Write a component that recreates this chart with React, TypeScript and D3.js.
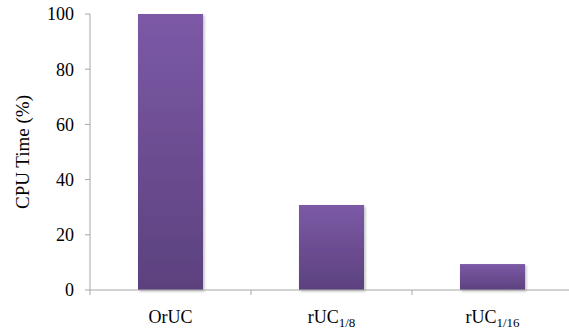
import React from "react";
import * as d3 from "d3";

const categories = ["OrUC", "rUC_1/8", "rUC_1/16"];
const cpuTime = [100, 30.8, 9.4];
const yTicks = [0, 20, 40, 60, 80, 100];

const W = 569;
const H = 333;
const left = 90;
const right = 573;
const top = 14;
const bottom = 290;

export default function App() {
  const x = d3
    .scaleBand<string>()
    .domain(categories)
    .range([left, right])
    .paddingInner(0.596)
    .paddingOuter(0.298);
  const y = d3.scaleLinear().domain([0, 100]).range([bottom, top]);
  const step = x.step();
  const font = "Liberation Serif, serif";
  const axisColor = "#a6a6a6";

  const renderLabel = (c: string) => {
    const [base, sub] = c.split("_");
    return (
      <>
        {base}
        {sub && (
          <tspan fontSize={13} dy={4}>
            {sub}
          </tspan>
        )}
      </>
    );
  };

  return (
    <svg
      width={W}
      height={H}
      style={{ position: "absolute", left: 0, top: 0, background: "#fff" }}
      fontFamily={font}
    >
      <defs>
        <linearGradient id="barFill" x1="0" y1="0" x2="0" y2="1">
          <stop offset="0%" stopColor="#7c59a6" />
          <stop offset="100%" stopColor="#5c417e" />
        </linearGradient>
        <filter id="shadow" x="-10%" y="-10%" width="130%" height="130%">
          <feDropShadow dx="1.5" dy="1.5" stdDeviation="1.2" floodColor="#000" floodOpacity="0.25" />
        </filter>
      </defs>

      {categories.map((c, i) => (
        <rect
          key={c}
          x={x(c)!}
          y={y(cpuTime[i])}
          width={x.bandwidth()}
          height={bottom - y(cpuTime[i])}
          fill="url(#barFill)"
          filter="url(#shadow)"
        />
      ))}

      {/* y axis */}
      <line x1={left} x2={left} y1={top} y2={bottom} stroke={axisColor} strokeWidth={1} />
      {yTicks.map((t) => (
        <g key={t}>
          <line x1={left - 5} x2={left} y1={y(t)} y2={y(t)} stroke={axisColor} />
          <text
            x={left - 16}
            y={y(t)}
            dy="0.35em"
            textAnchor="end"
            fontSize={18}
            fill="#000"
          >
            {t}
          </text>
        </g>
      ))}

      {/* x axis */}
      <line x1={left} x2={right} y1={bottom} y2={bottom} stroke={axisColor} />
      {d3.range(categories.length + 1).map((i) => (
        <line
          key={i}
          x1={left + i * step}
          x2={left + i * step}
          y1={bottom}
          y2={bottom + 5}
          stroke={axisColor}
        />
      ))}
      {categories.map((c) => (
        <text
          key={c}
          x={x(c)! + x.bandwidth() / 2}
          y={323}
          textAnchor="middle"
          fontSize={18}
          fill="#000"
        >
          {renderLabel(c)}
        </text>
      ))}

      <text
        transform={`translate(${29},${(top + bottom) / 2}) rotate(-90)`}
        textAnchor="middle"
        fontSize={19}
        fill="#000"
      >
        CPU Time (%)
      </text>
    </svg>
  );
}
